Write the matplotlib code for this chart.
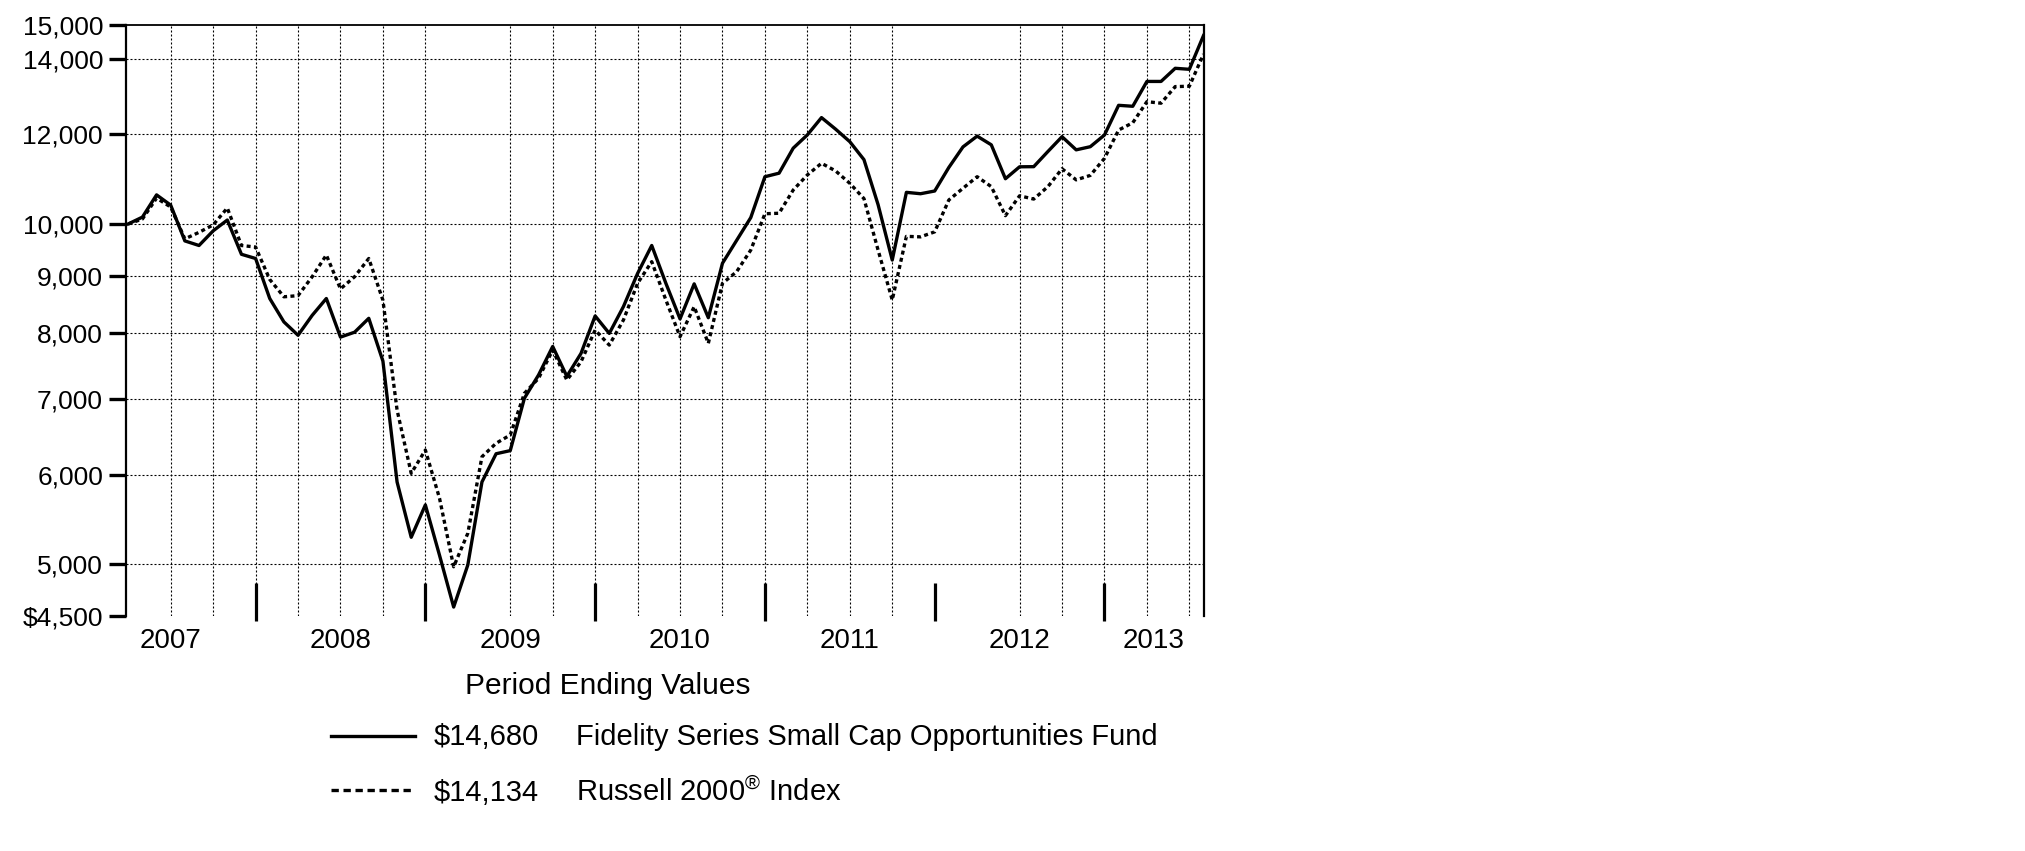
import numpy as np
import pandas as pd
import matplotlib
matplotlib.use('Agg')
import matplotlib.pyplot as plt
from matplotlib.lines import Line2D
from matplotlib.ticker import NullLocator

# ========================
# ДАННЫЕ (значения на конец месяца, $10 000 вложено в марте 2007)
# ========================
periods = pd.period_range('2007-03', '2013-07', freq='M')

fund = [
    10000, 10140, 10610, 10390, 9660, 9570, 9860, 10080, 9400, 9320,
    8590, 8190, 7970, 8300, 8590, 7940, 8020, 8250, 7560, 5910,
    5280, 5640, 5090, 4580, 4990, 5910, 6260, 6300, 7010, 7350,
    7790, 7330, 7680, 8290, 8000, 8450, 9040, 9570, 8860, 8240,
    8850, 8260, 9230, 9670, 10130, 11010, 11090, 11670, 11990, 12420,
    12130, 11825, 11400, 10400, 9290, 10665, 10635, 10694, 11220, 11700,
    11960, 11750, 10965, 11235, 11238, 11590, 11946, 11630, 11705, 11987,
    12735, 12710, 13370, 13370, 13733, 13705, 14680,
]

russell = [
    10000, 10100, 10540, 10350, 9700, 9830, 9980, 10330, 9570, 9540,
    8930, 8620, 8640, 8980, 9386, 8760, 8980, 9320, 8560, 6843,
    6015, 6307, 5717, 4972, 5323, 6222, 6395, 6504, 7080, 7300,
    7734, 7275, 7550, 8055, 7812, 8222, 8860, 9260, 8564, 7947,
    8448, 7840, 8860, 9072, 9481, 10210, 10220, 10716, 11050, 11316,
    11140, 10863, 10530, 9480, 8564, 9750, 9740, 9840, 10500, 10754,
    11010, 10790, 10170, 10590, 10520, 10789, 11190, 10940, 11040, 11430,
    12109, 12290, 12830, 12790, 13230, 13240, 14134,
]

y_ticks = [4500, 5000, 6000, 7000, 8000, 9000, 10000, 12000, 14000, 15000]
y_tick_labels = ['$4,500', '5,000', '6,000', '7,000', '8,000', '9,000',
                 '10,000', '12,000', '14,000', '15,000']

fund_name = 'Fidelity Series Small Cap Opportunities Fund'
index_name = r'Russell 2000$^{®}$ Index'
fund_end = '$14,680'
index_end = '$14,134'
legend_title = 'Period Ending Values'

# ========================
# СТИЛЬ
# ========================
plt.rcParams['font.family'] = ['Liberation Sans', 'DejaVu Sans']
plt.rcParams['mathtext.fontset'] = 'custom'
plt.rcParams['mathtext.rm'] = 'Liberation Sans'
plt.rcParams['mathtext.it'] = 'Liberation Sans:italic'
plt.rcParams['mathtext.bf'] = 'Liberation Sans:bold'

W, H = 2025, 851


def fx(px):
    return px / W


def fy(py):
    return 1 - py / H


fig = plt.figure(figsize=(W / 100, H / 100), dpi=100)
ax_left, ax_right, ax_top, ax_bottom = 126, 1203.5, 25, 615.7
ax = fig.add_axes([fx(ax_left), fy(ax_bottom),
                   fx(ax_right - ax_left), (ax_bottom - ax_top) / H])

x = np.arange(len(periods))
dotted = (0, (1.2, 1.0))

ax.plot(x, fund, color='black', lw=2.4, solid_joinstyle='round', zorder=4)
ax.plot(x, russell, color='black', lw=2.4, linestyle=dotted, zorder=3)

ax.set_yscale('log')
ax.set_ylim(y_ticks[0], y_ticks[-1])
ax.set_xlim(-0.16, len(periods) - 1)

# сетка: горизонтальная на каждом делении, вертикальная поквартально
grid_kw = dict(color='black', lw=0.8, linestyle=(0, (1.8, 1.8)), zorder=1)
for v in y_ticks[1:-1]:
    ax.axhline(v, **grid_kw)
for m in range(3, len(periods) - 1, 3):
    if m in (24, 57, 60):
        continue
    ax.axvline(m, **grid_kw)

# ось Y
ax.set_yticks(y_ticks)
ax.set_yticklabels(y_tick_labels)
ax.yaxis.set_minor_locator(NullLocator())
ax.tick_params(axis='y', which='major', length=12, width=2.4, pad=4.5,
               labelsize=19, color='black')

# ось X: границы лет и подписи годов
dec_idx = [i for i, p in enumerate(periods) if p.month == 12]
years = sorted(set(p.year for p in periods))
label_pos = []
for yr in years:
    jun = [i for i, p in enumerate(periods) if p.year == yr and p.month == 6]
    if yr == years[-1]:
        label_pos.append((dec_idx[-1] + len(periods) - 1) / 2)
    else:
        label_pos.append(jun[0])

ax.set_xticks(dec_idx)
ax.tick_params(axis='x', which='major', length=0, labelbottom=False)
ax.set_xticks(label_pos, minor=True)
ax.set_xticklabels([str(y) for y in years], minor=True)
ax.tick_params(axis='x', which='minor', length=0, pad=9, labelsize=20)
ax.vlines(dec_idx, -0.009, 0.056, transform=ax.get_xaxis_transform(),
          color='black', lw=2.3, clip_on=False, zorder=5)

ax.spines['bottom'].set_visible(False)
ax.spines['left'].set_linewidth(1.6)
ax.spines['right'].set_linewidth(1.6)
ax.spines['top'].set_linewidth(1.3)

# ========================
# ЛЕГЕНДА
# ========================
fig.text(fx(607.5), fy(693.5), legend_title, ha='center', va='baseline',
         fontsize=21.5)

rows = [(745, 736, '-', fund_end, fund_name),
        (801, 790, (0, (2.2, 1.4)), index_end, index_name)]
for base, ly, ls, val, name in rows:
    fig.add_artist(Line2D([fx(331), fx(415)], [fy(ly), fy(ly)],
                          transform=fig.transFigure, color='black',
                          lw=2.4, linestyle=ls))
    fig.text(fx(434), fy(base), val, ha='left', va='baseline', fontsize=21)
    fig.text(fx(576), fy(base), name, ha='left', va='baseline', fontsize=21)

fig.savefig('out.png', dpi=100, facecolor='white')
